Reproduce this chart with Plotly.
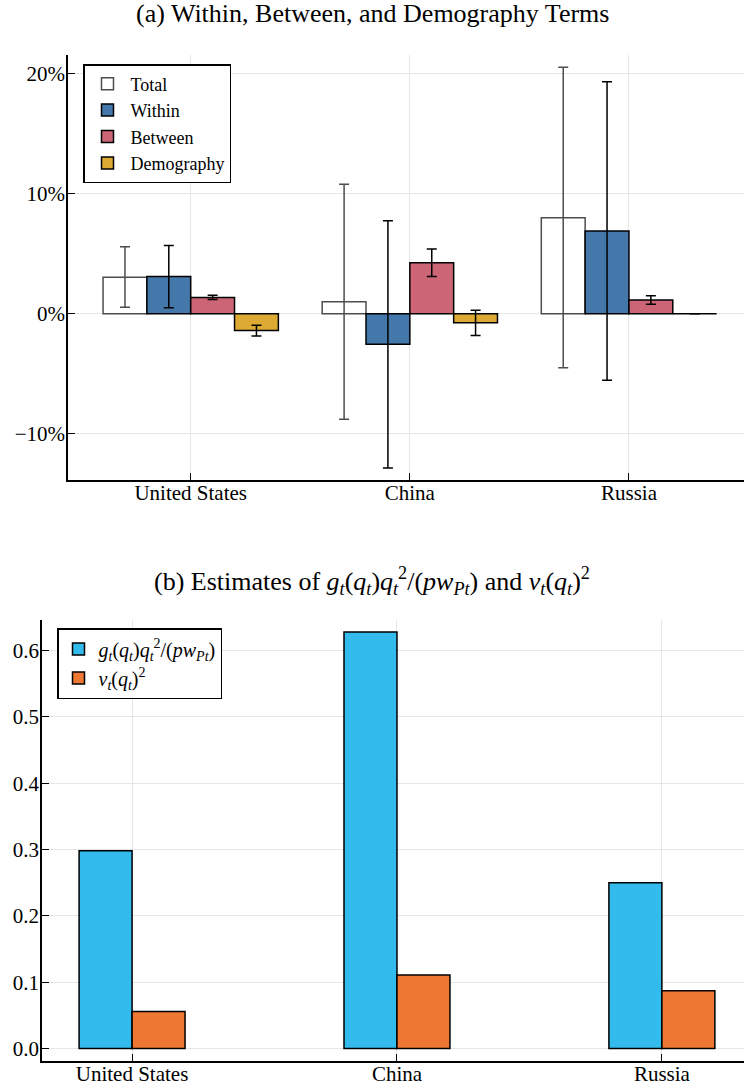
import plotly.graph_objects as go

# ---------------- data ----------------
countries = ["United States", "China", "Russia"]

# Panel (a): values in percent, with upper / lower error-bar bounds
series_a = ["Total", "Within", "Between", "Demography"]
total_val = [3.05, 1.0, 8.0]
total_hi = [5.6, 10.8, 20.55]
total_lo = [0.55, -8.8, -4.5]
within_val = [3.1, -2.55, 6.9]
within_hi = [5.7, 7.75, 19.35]
within_lo = [0.5, -12.85, -5.55]
between_val = [1.35, 4.25, 1.15]
between_hi = [1.55, 5.4, 1.5]
between_lo = [1.2, 3.1, 0.8]
demog_val = [-1.4, -0.75, 0.0]
demog_hi = [-0.95, 0.3, 0.0]
demog_lo = [-1.85, -1.8, 0.0]

# Panel (b)
g_vals = [0.298, 0.628, 0.25]
nu_vals = [0.056, 0.111, 0.087]

ytick_a = [-10, 0, 10, 20]
ytick_a_text = ["\u221210%", "0%", "10%", "20%"]
ytick_b = [0.0, 0.1, 0.2, 0.3, 0.4, 0.5, 0.6]

# ---------------- style ----------------
FONT = "Liberation Serif"
col_fill = ["#FFFFFF", "#4477AA", "#CC6677", "#DDAA33"]
col_edge = ["#4D4D4D", "#000000", "#000000", "#000000"]
col_b = ["#33BBEE", "#EE7733"]

fig = go.Figure()

vals_a = [total_val, within_val, between_val, demog_val]
his_a = [total_hi, within_hi, between_hi, demog_hi]
los_a = [total_lo, within_lo, between_lo, demog_lo]
for i, name in enumerate(series_a):
    v, hi, lo = vals_a[i], his_a[i], los_a[i]
    fig.add_trace(go.Bar(
        x=countries, y=v, name=name,
        width=0.2, offset=-0.4 + 0.2 * i,
        marker=dict(color=col_fill[i], line=dict(color=col_edge[i], width=1.5)),
        error_y=dict(type="data", symmetric=False,
                     array=[h - a for h, a in zip(hi, v)],
                     arrayminus=[a - l for a, l in zip(v, lo)],
                     color=col_edge[i], thickness=1.5, width=5),
        xaxis="x", yaxis="y", legend="legend",
    ))

names_b = [
    "<i>g</i><sub><i>t</i></sub>(<i>q</i><sub><i>t</i></sub>)<i>q</i><sub><i>t</i></sub><sup>2</sup>/(<i>pw</i><sub><i>Pt</i></sub>)",
    "<i>ν</i><sub><i>t</i></sub>(<i>q</i><sub><i>t</i></sub>)<sup>2</sup>",
]
for i, (name, v) in enumerate(zip(names_b, [g_vals, nu_vals])):
    fig.add_trace(go.Bar(
        x=countries, y=v, name=name,
        width=0.2, offset=-0.2 + 0.2 * i,
        marker=dict(color=col_b[i], line=dict(color="#000000", width=1.5)),
        xaxis="x2", yaxis="y2", legend="legend2",
    ))

W, H = 744, 1089
TICK = 21
axis_common = dict(
    showline=True, linecolor="black", linewidth=1.5,
    ticks="inside", ticklen=7, tickwidth=1, tickcolor="black",
    showgrid=True, gridcolor="#E6E6E6", gridwidth=1, zeroline=False,
    tickfont=dict(family=FONT, size=TICK, color="black"),
    mirror=False, automargin=False,
)

fig.update_layout(
    width=W, height=H,
    margin=dict(l=0, r=0, t=0, b=0),
    paper_bgcolor="white", plot_bgcolor="white",
    barmode="overlay",
    font=dict(family=FONT, size=TICK, color="black"),
    xaxis=dict(domain=[68 / W, 1], range=[-0.56, 2.525], anchor="y",
               ticklabelstandoff=-7, **axis_common),
    yaxis=dict(domain=[1 - 480 / H, 1 - 55 / H], range=[-13.86, 21.58], anchor="x",
               tickvals=ytick_a, ticktext=ytick_a_text, ticklabelstandoff=-3, **axis_common),
    xaxis2=dict(domain=[42 / W, 1], range=[-0.34, 2.31], anchor="y2",
                ticklabelstandoff=-7, **axis_common),
    yaxis2=dict(domain=[1 - 1061 / H, 1 - 620 / H], range=[-0.0188, 0.646], anchor="x2",
                tickvals=ytick_b, tickformat=".1f", ticklabelstandoff=-3, **axis_common),
    legend=dict(x=83 / W, y=1 - 64 / H, xanchor="left", yanchor="top",
                bgcolor="white", bordercolor="black", borderwidth=1.5,
                font=dict(family=FONT, size=18), tracegroupgap=0, itemwidth=36),
    legend2=dict(x=57 / W, y=1 - 628 / H, xanchor="left", yanchor="top",
                 bgcolor="white", bordercolor="black", borderwidth=1.5,
                 font=dict(family=FONT, size=20), tracegroupgap=0, itemwidth=30),
    annotations=[
        dict(text="(a) Within, Between, and Demography Terms", x=0.5, y=1 - 14 / H,
             xref="paper", yref="paper", showarrow=False, xanchor="center", yanchor="middle",
             font=dict(family=FONT, size=26)),
        dict(text="(b) Estimates of <i>g</i><sub><i>t</i></sub>(<i>q</i><sub><i>t</i></sub>)<i>q</i><sub><i>t</i></sub><sup>2</sup>/(<i>pw</i><sub><i>Pt</i></sub>) and <i>ν</i><sub><i>t</i></sub>(<i>q</i><sub><i>t</i></sub>)<sup>2</sup>",
             x=0.5, y=1 - 581 / H,
             xref="paper", yref="paper", showarrow=False, xanchor="center", yanchor="middle",
             font=dict(family=FONT, size=26)),
    ],
)

fig.write_html("out.html", config={"displayModeBar": False},
               post_script="document.body.style.margin='0';")
